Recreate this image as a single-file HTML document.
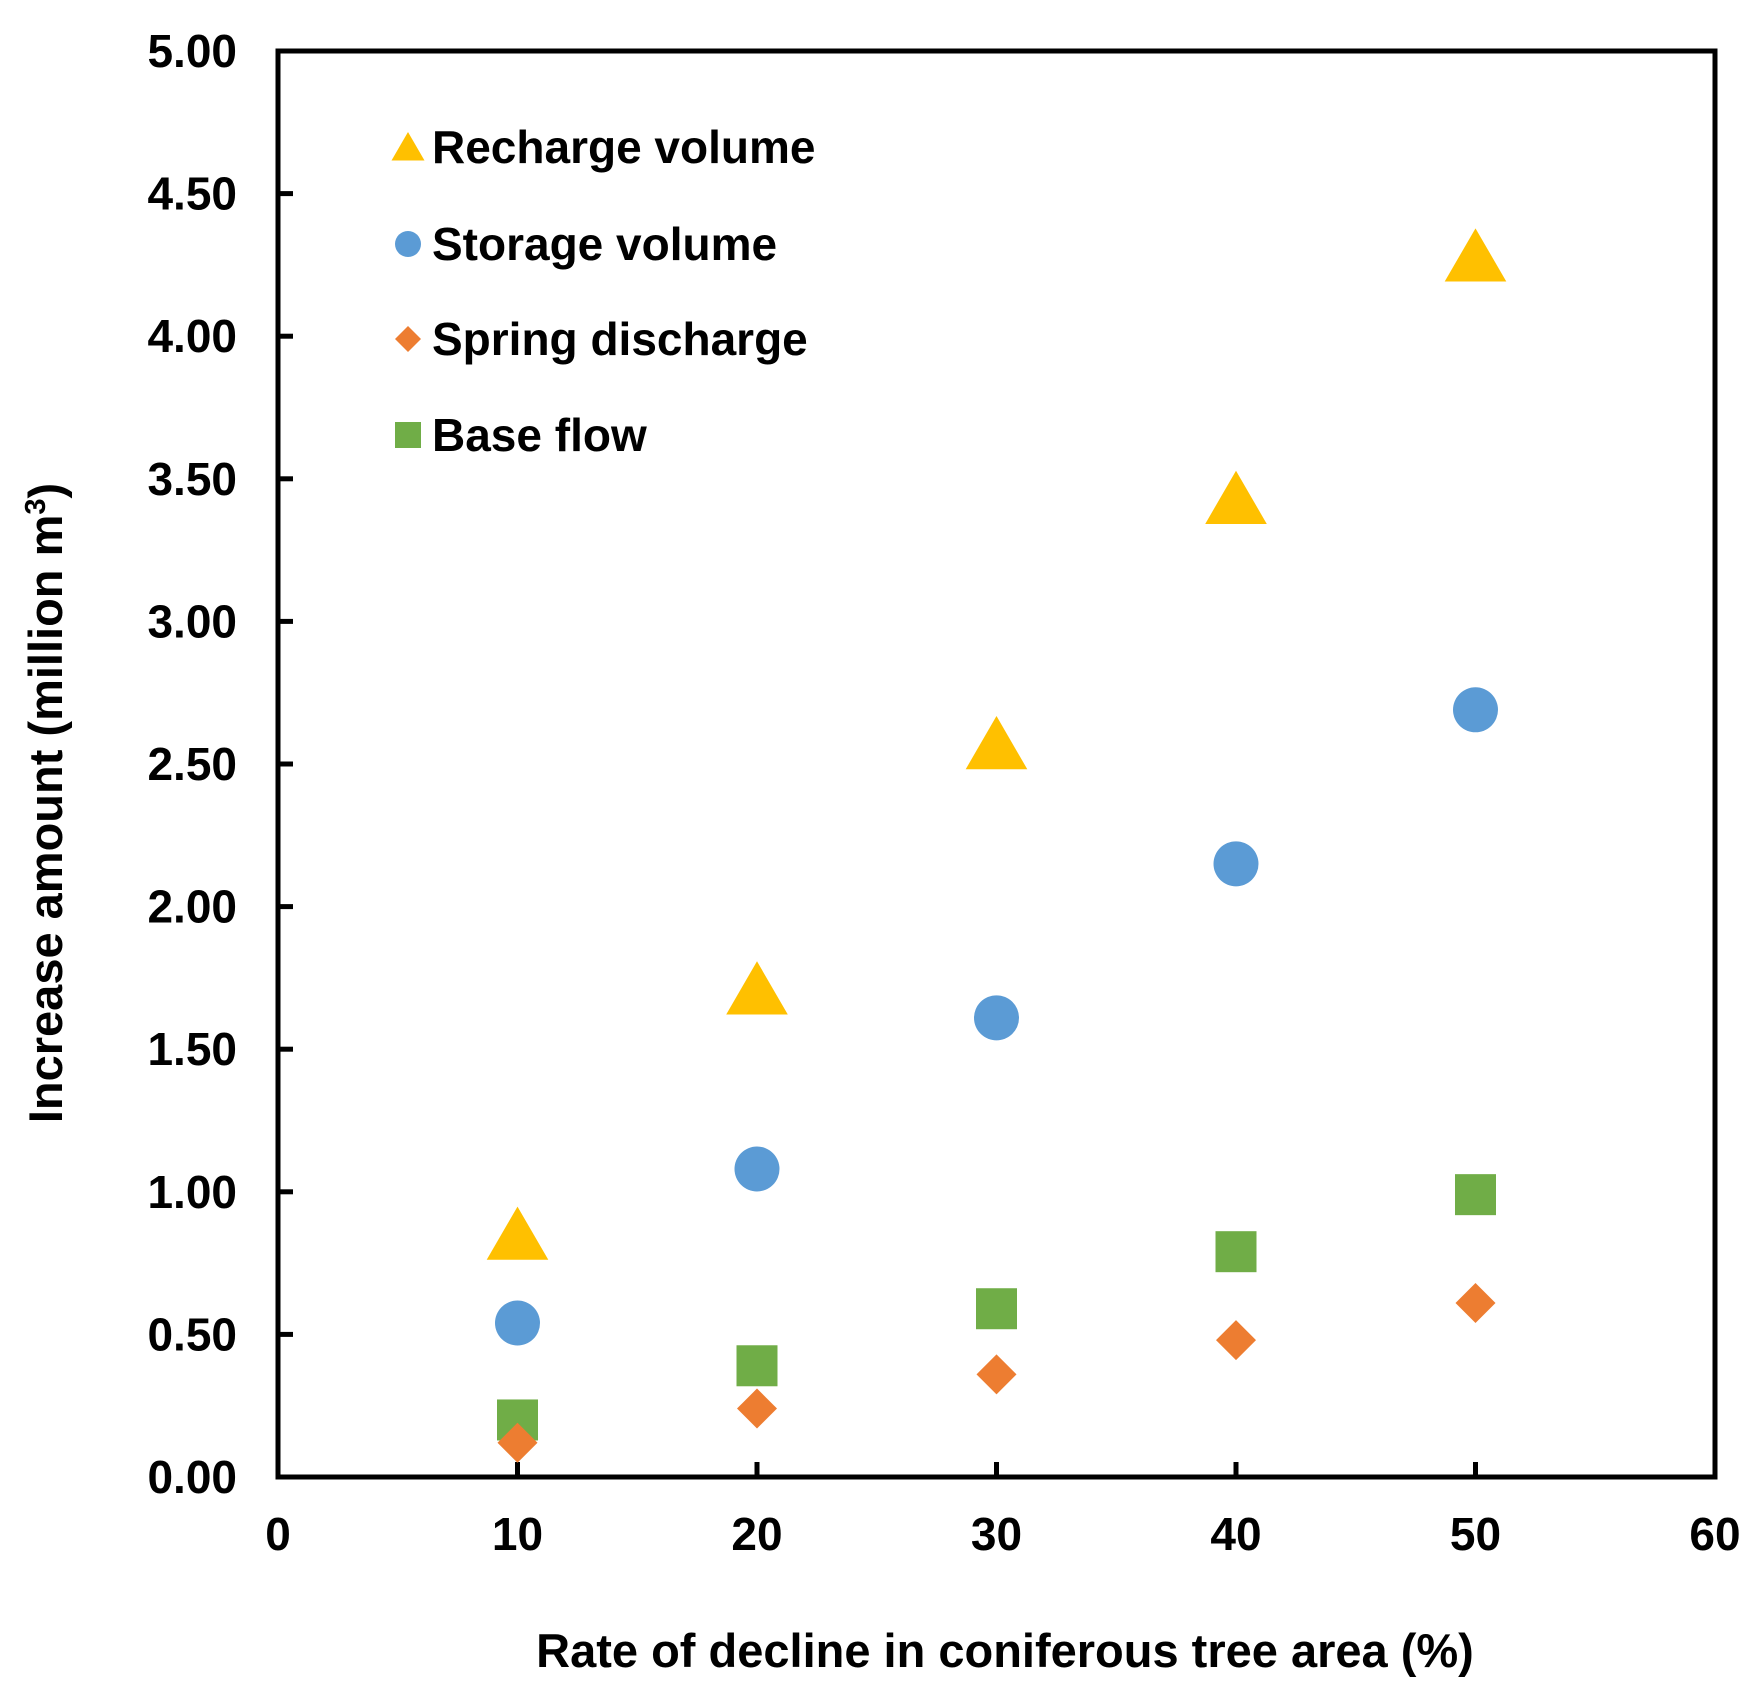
<!DOCTYPE html>
<html><head><meta charset="utf-8"><style>
html,body{margin:0;padding:0;background:#fff;}
svg{display:block;font-family:"Liberation Sans","Noto Sans CJK JP",sans-serif;}
</style></head><body>
<svg id="chart" width="1761" height="1704" viewBox="0 0 1761 1704"></svg>
<script>
const xCategories=[10,20,30,40,50];
const rechargeValues=[0.85,1.71,2.57,3.43,4.28];
const storageValues=[0.54,1.08,1.61,2.15,2.69];
const springValues=[0.12,0.24,0.36,0.48,0.61];
const baseValues=[0.20,0.39,0.59,0.79,0.99];
const xTickLabels=["0","10","20","30","40","50","60"];
const yTickLabels=["0.00","0.50","1.00","1.50","2.00","2.50","3.00","3.50","4.00","4.50","5.00"];

const NS="http://www.w3.org/2000/svg";
const svg=document.getElementById('chart');
const L=278,R=1715,T=51,B=1477;
const xs=v=>L+(v/60)*(R-L);
const ys=v=>B-(v/5)*(B-T);
function mk(tag,attrs,parent){const e=document.createElementNS(NS,tag);for(const k in attrs)e.setAttribute(k,attrs[k]);(parent||svg).appendChild(e);return e;}

const frame=mk('rect',{x:L,y:T,width:R-L,height:B-T,fill:'none',stroke:'#000','stroke-width':5});



xTickLabels.forEach(t=>{const v=+t;const x=xs(v);
 if(v>0&&v<60){const tk=mk('line',{x1:x,x2:x,y1:B,y2:B-15,stroke:'#000','stroke-width':5});
 
 }
 const tx=mk('text',{x:x,y:B+73,'text-anchor':'middle','font-size':46,'font-weight':'bold'});tx.textContent=t;
 
 
});
yTickLabels.forEach(t=>{const v=+t;const y=ys(v);
 if(v>0&&v<5){const tk=mk('line',{x1:L,x2:L+15,y1:y,y2:y,stroke:'#000','stroke-width':5});
 
 }
 const tx=mk('text',{x:237,y:y+16,'text-anchor':'end','font-size':46,'font-weight':'bold'});tx.textContent=t;
 
 
});

const xt=mk('text',{x:1005,y:1667,'text-anchor':'middle','font-size':47,'font-weight':'bold'});
xt.textContent='Rate of decline in coniferous tree area (%)';


const yt=mk('text',{x:0,y:0,'text-anchor':'middle','font-size':47,'font-weight':'bold',transform:'translate(62,803) rotate(-90)'});
yt.innerHTML='Increase amount (million m<tspan font-size="29" dy="-17">3</tspan><tspan dy="17">)</tspan>';



function marker(type,cx,cy,s,parent){
 if(type==='tri'){return mk('polygon',{points:`${cx},${cy-s*0.5} ${cx-s*0.55},${cy+s*0.45} ${cx+s*0.55},${cy+s*0.45}`,fill:'#FFC000'},parent);}
 if(type==='circ'){return mk('circle',{cx:cx,cy:cy,r:s/2,fill:'#5B9BD5'},parent);}
 if(type==='dia'){return mk('polygon',{points:`${cx},${cy-s/2} ${cx+s/2},${cy} ${cx},${cy+s/2} ${cx-s/2},${cy}`,fill:'#ED7D31'},parent);}
 return mk('rect',{x:cx-s/2,y:cy-s/2,width:s,height:s,fill:'#70AD47'},parent);
}
const series=[
 {name:'base-flow',vals:baseValues,type:'sq',s:41},
 {name:'spring-discharge',vals:springValues,type:'dia',s:40},
 {name:'storage-volume',vals:storageValues,type:'circ',s:45},
 {name:'recharge-volume',vals:rechargeValues,type:'tri',s:56}
];
series.forEach(sr=>{
 const g=mk('g',{});
 
 
 sr.vals.forEach((v,i)=>{const m=marker(sr.type,xs(xCategories[i]),ys(v),sr.s,g);
  
  });
});

const legendItems=[['Recharge volume','tri',30],['Storage volume','circ',26],['Spring discharge','dia',26],['Base flow','sq',26]];
const legendY=[147,244,339,435];
legendItems.forEach((it,i)=>{
 const g=mk('g',{});
 
 
 marker(it[1],408,legendY[i],it[2],g);
 const tx=mk('text',{x:432,y:legendY[i]+16,'font-size':46,'font-weight':'bold'},g);tx.textContent=it[0];
});
</script>
</body></html>
